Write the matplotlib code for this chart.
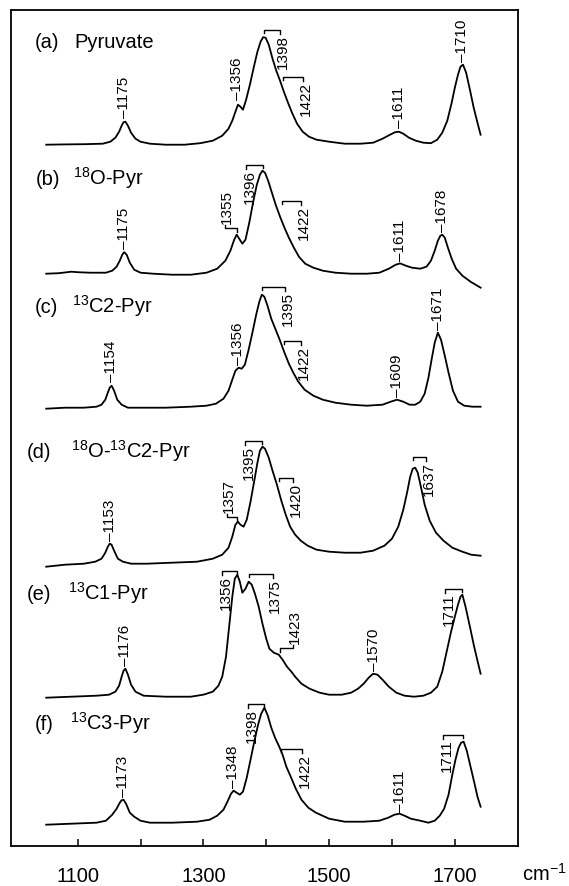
import matplotlib
matplotlib.use("Agg")
import matplotlib.pyplot as plt

plt.rcParams['font.family'] = ['Liberation Sans', 'DejaVu Sans']
plt.rcParams['mathtext.default'] = 'regular'

# ---- Spectra (wavenumber in cm-1, intensity in arbitrary units above own baseline) ----
wn_a = [1050, 1080, 1110, 1140, 1152, 1160, 1166, 1170, 1173, 1176, 1180, 1185, 1192, 1200, 1215,
        1240, 1270, 1295, 1315, 1330, 1340, 1346, 1351, 1355, 1359, 1363, 1368, 1374, 1380, 1386,
        1391, 1395, 1399, 1404, 1410, 1416, 1422, 1428, 1434, 1441, 1449, 1458, 1468, 1480, 1500,
        1525, 1550, 1570, 1585, 1597, 1605, 1611, 1618, 1627, 1638, 1650, 1662, 1672, 1680, 1688,
        1695, 1700, 1705, 1709, 1713, 1718, 1724, 1730, 1736, 1741]
int_a = [0, 0.3, 0.5, 1, 3, 7, 13, 19, 22.5, 23, 19, 12, 6, 3, 1,
         0, 0, 1.5, 4, 9, 16, 24, 33, 40, 38, 35, 45, 60, 77, 93,
         103, 107.5, 107, 100, 86, 74, 64, 53, 43, 32, 21, 13, 8, 5, 3,
         1, 1, 2, 6, 10, 12.5, 13, 11, 7, 4, 2, 1.5, 5, 12, 24,
         42, 57, 70, 78, 80, 72, 55, 37, 22, 10]

wn_b = [1050, 1070, 1090, 1100, 1120, 1145, 1155, 1162, 1167, 1171, 1174, 1178, 1183, 1190, 1200,
        1220, 1250, 1280, 1305, 1322, 1335, 1343, 1349, 1353, 1357, 1362, 1367, 1373, 1379, 1385,
        1390, 1394, 1398, 1403, 1409, 1415, 1422, 1429, 1436, 1444, 1452, 1462, 1475, 1490, 1510,
        1535, 1560, 1580, 1595, 1606, 1613, 1622, 1632, 1645, 1655, 1662, 1668, 1673, 1677, 1680,
        1684, 1689, 1695, 1702, 1712, 1725, 1741]
int_b = [-1, -0.5, 1, 0.5, 0, 0, 2, 6, 12, 18, 20.5, 18, 10, 3, 0,
         -1, -2, -2, 0, 4, 12, 22, 33, 38, 34, 29, 33, 50, 70, 88,
         98, 102, 100, 92, 80, 68, 56, 45, 35, 25, 16, 9, 5, 2, 0,
         -1, -1, 0, 4, 8, 9.3, 7, 5, 4, 6, 12, 22, 32, 37, 38,
         35, 25, 14, 4, -3, -9, -15]

wn_c = [1050, 1080, 1110, 1130, 1138, 1144, 1148, 1151, 1154, 1158, 1163, 1170, 1180, 1200, 1240,
        1280, 1305, 1320, 1332, 1340, 1346, 1351, 1356, 1361, 1366, 1372, 1378, 1384, 1389, 1393,
        1397, 1402, 1408, 1415, 1422, 1429, 1436, 1443, 1451, 1461, 1475, 1490, 1510, 1535, 1560,
        1585, 1598, 1608, 1618, 1628, 1637, 1645, 1652, 1658, 1663, 1668, 1673, 1678, 1684, 1690,
        1697, 1705, 1715, 1728, 1741]
int_c = [-1, 0, 0, 1, 3, 8, 15, 20, 22, 17, 8, 3, 0, 0, 0,
         1, 2, 4, 9, 17, 28, 37, 40, 39, 43, 58, 75, 93, 106, 113,
         111, 102, 89, 78, 67, 55, 44, 35, 26, 18, 12, 8, 5, 3, 2,
         3, 6, 8, 6, 3, 3, 6, 14, 30, 48, 65, 75, 68, 52, 35,
         17, 6, 2, 1, 1]

wn_d = [1050, 1080, 1110, 1128, 1138, 1144, 1148, 1151, 1154, 1158, 1164, 1172, 1185, 1210, 1250,
        1290, 1315, 1330, 1340, 1346, 1351, 1355, 1359, 1364, 1369, 1375, 1381, 1386, 1390, 1394,
        1398, 1404, 1410, 1417, 1424, 1431, 1438, 1446, 1455, 1466, 1480, 1500, 1525, 1550, 1570,
        1588, 1600, 1610, 1618, 1624, 1629, 1633, 1637, 1641, 1646, 1652, 1660, 1670, 1682, 1696,
        1712, 1726, 1741]
int_d = [-2, 0, 1, 3, 6, 12, 18, 21, 20, 14, 6, 3, 1, 1, 2,
         3, 6, 10, 17, 28, 40, 43, 40, 38, 45, 63, 84, 102, 114, 118,
         116, 107, 94, 80, 64, 50, 38, 30, 24, 19, 15, 13, 12, 12, 14,
         19, 26, 38, 55, 72, 88, 96, 97, 92, 78, 60, 44, 32, 24, 17,
         13, 10, 9]

wn_e = [1050, 1090, 1130, 1150, 1160, 1166, 1170, 1173, 1176, 1180, 1185, 1192, 1205, 1240, 1280,
        1300, 1315, 1324, 1330, 1336, 1341, 1346, 1350, 1354, 1358, 1362, 1367, 1372, 1377, 1382,
        1388, 1394, 1400, 1405, 1412, 1420, 1426, 1433, 1440, 1446, 1456, 1469, 1485, 1500, 1520,
        1535, 1546, 1555, 1563, 1570, 1577, 1585, 1595, 1607, 1620, 1635, 1650, 1662, 1672, 1680,
        1687, 1694, 1700, 1705, 1709, 1712, 1717, 1724, 1730, 1736, 1741]
int_e = [-1, 0, 1, 2, 5, 11, 20, 26, 28, 22, 12, 5, 1, 0, 0,
         2, 5, 11, 20, 40, 70, 100, 118, 122, 115, 104, 108, 115, 112, 103,
         90, 73, 58, 48, 44, 42, 37, 30, 25, 20, 13, 8, 4, 2, 2,
         4, 8, 13, 19, 23, 22, 17, 10, 4, 1, 0, 1, 4, 10, 25,
         45, 65, 80, 92, 100, 102, 90, 70, 52, 36, 23]

wn_f = [1050, 1090, 1130, 1145, 1155, 1162, 1167, 1170, 1173, 1177, 1183, 1190, 1200, 1215, 1250,
        1290, 1310, 1322, 1332, 1339, 1344, 1348, 1353, 1358, 1363, 1369, 1375, 1381, 1387, 1392,
        1397, 1402, 1408, 1414, 1420, 1426, 1432, 1439, 1447, 1456, 1467, 1479, 1500, 1525, 1555,
        1580, 1594, 1604, 1612, 1620, 1630, 1645, 1658, 1668, 1676, 1683, 1690, 1696, 1701, 1706,
        1710, 1714, 1719, 1725, 1731, 1736, 1741]
int_f = [0, 1, 2, 4, 10, 16, 22, 24.5, 25, 21, 12, 8, 4, 2, 2,
         3, 5, 9, 15, 24, 31, 34, 32, 30, 33, 47, 65, 83, 100, 111,
         117, 110, 97, 87, 79, 70, 58, 48, 36, 25, 17, 12, 6, 3, 3,
         4, 7, 10, 11, 9, 6, 4, 2, 4, 9, 16, 30, 50, 65, 77,
         82, 83, 74, 58, 42, 28, 18]

tags = ['(a)', '(b)', '(c)', '(d)', '(e)', '(f)']
names = ['Pyruvate', '$^{18}$O-Pyr', '$^{13}$C2-Pyr', '$^{18}$O-$^{13}$C2-Pyr',
         '$^{13}$C1-Pyr', '$^{13}$C3-Pyr']

# vertical offset of each trace
offsets = [701, 573, 438, 281, 149, 21]

# plain peak labels: (text, wavenumber, height of label foot above baseline)
peaks_a = [('1175', 1174, 27), ('1356', 1354, 45), ('1611', 1611, 17), ('1710', 1711, 83)]
peaks_b = [('1175', 1173, 24), ('1611', 1612, 12), ('1678', 1680, 41)]
peaks_c = [('1154', 1153, 26), ('1356', 1355, 43), ('1609', 1608, 11), ('1671', 1673, 78)]
peaks_d = [('1153', 1152, 24)]
peaks_e = [('1176', 1175, 31), ('1570', 1572, 26)]
peaks_f = [('1173', 1172, 28), ('1348', 1347, 37), ('1611', 1612, 13)]

# bracketed labels: (text, peak x, label x, bar height, label side)
brk_a = [('1398', 1396, 1422, 115, 'down'), ('1422', 1426, 1459, 68, 'down')]
brk_b = [('1396', 1395, 1368, 108, 'down'), ('1355', 1353, 1335, 45, 'up'),
         ('1422', 1425, 1456, 72, 'down')]
brk_c = [('1395', 1393, 1430, 121, 'down'), ('1422', 1428, 1456, 67, 'down')]
brk_d = [('1395', 1393, 1366, 124, 'down'), ('1357', 1353, 1338, 48, 'up'),
         ('1420', 1421, 1443, 87, 'down'), ('1637', 1634, 1654, 108, 'down')]
brk_e = [('1356', 1353, 1330, 126, 'down'), ('1375', 1373, 1410, 123, 'down'),
         ('1423', 1422, 1442, 49, 'up'), ('1711', 1711, 1684, 108, 'down')]
brk_f = [('1398', 1397, 1371, 121, 'down'), ('1422', 1424, 1457, 76, 'down'),
         ('1711', 1713, 1681, 90, 'down')]

spectra = [(wn_a, int_a), (wn_b, int_b), (wn_c, int_c), (wn_d, int_d), (wn_e, int_e), (wn_f, int_f)]
peak_sets = [peaks_a, peaks_b, peaks_c, peaks_d, peaks_e, peaks_f]
bracket_sets = [brk_a, brk_b, brk_c, brk_d, brk_e, brk_f]

# ---- Figure ----
W, H = 569, 886
fig = plt.figure(figsize=(W / 100, H / 100), dpi=100)
ax = fig.add_axes([11 / W, 1 - 845.7 / H, 506.7 / W, 835.7 / H])
ax.set_xlim(994, 1800)
ax.set_ylim(0, 835.7)

lab_fs = 11
for (wn, inten), off, pk, brk in zip(spectra, offsets, peak_sets, bracket_sets):
    ax.plot(wn, [off + v for v in inten], color='black', lw=1.3)

    for txt, x, h in pk:
        ax.text(x, off + h, '\u2013' + txt, rotation=90, ha='center', va='bottom',
                fontsize=lab_fs)

    for txt, xp, xl, bar, side in brk:
        if side == 'down':
            ax.plot([xp, xp, xl, xl], [off + bar - 3, off + bar, off + bar, off + bar - 4],
                    color='black', lw=1.0)
            ax.text(xl + (4 if xl > xp else 6), off + bar - 5, txt, rotation=90,
                    ha='center', va='top', fontsize=lab_fs)
        else:
            ax.plot([xp, xp, xl, xl], [off + bar - 4, off + bar, off + bar, off + bar + 3],
                    color='black', lw=1.0)
            ax.text(xl + 3, off + bar + 4, txt, rotation=90, ha='center', va='bottom',
                    fontsize=lab_fs)

# ---- Panel titles ----
tag_x = [35, 36, 35, 27, 27, 35]
name_x = [74, 73, 72, 71, 68, 70]
title_y = [48, 185, 313, 458, 600, 730]
for t, n, tx, nx, ty in zip(tags, names, tag_x, name_x, title_y):
    fig.text(tx / W, 1 - ty / H, t, fontsize=14.5, ha='left', va='baseline')
    fig.text(nx / W, 1 - ty / H, n, fontsize=14.5, ha='left', va='baseline')

# ---- Axes styling ----
ax.set_yticks([])
ax.set_xticks(range(1100, 1701, 100))
ax.set_xticklabels(['1100', '', '1300', '', '1500', '', '1700'])
ax.tick_params(axis='x', direction='in', length=4.8, width=1.1, pad=15, labelsize=14.5)
for s in ax.spines.values():
    s.set_linewidth(1.3)

fig.text(522 / W, 1 - 874 / H, 'cm$^{-1}$', fontsize=14.5, ha='left', va='center')

fig.savefig('out.png', dpi=100)
